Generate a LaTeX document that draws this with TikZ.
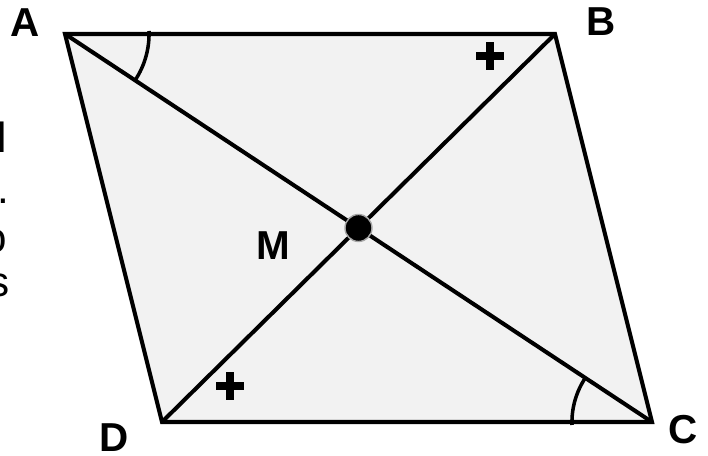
\documentclass[tikz,border=0pt]{standalone}
\usepackage{fontspec}
\setmainfont{Liberation Sans}
\definecolor{shade}{HTML}{F2F2F2}
\tikzset{
  edge/.style={line width=2.3pt},
  anglemark/.style={line width=2pt},
  tick/.style={line width=4pt},
  vlabel/.style={font=\fontsize{23}{27}\selectfont\bfseries, inner sep=0pt},
  margintext/.style={font=\fontsize{24}{28}\selectfont, anchor=base east, inner sep=0pt}
}

\begin{document}
\begin{tikzpicture}[x=0.02cm, y=0.02cm]
  \useasboundingbox (0,0) rectangle (708,456);
  \clip (0,0) rectangle (708,456);

  % Corners
  \coordinate (A) at (65,422);
  \coordinate (B) at (555,422);
  \coordinate (C) at (652,34);
  \coordinate (D) at (162,34);
  \coordinate (M) at (358.5,228);

  % Parallelogram and diagonals
  \filldraw[edge, fill=shade] (A) -- (B) -- (C) -- (D) -- cycle;
  \draw[edge] (A) -- (C);
  \draw[edge] (B) -- (D);

  % Equal angles
  \draw[anglemark] (A) ++(84,3) arc[start angle=2, end angle=-33.5, radius=84];
  \draw[anglemark] (C) ++(-80,-3) arc[start angle=182, end angle=146.5, radius=80];

  % Equal angles (plus marks)
  \foreach \p in {(490,400),(230,70)}
    \draw[tick] \p ++(-14,0) -- ++(28,0) \p ++(0,-14) -- ++(0,28);

  % Midpoint
  \filldraw[fill=black, draw=gray!70, line width=0.8pt] (M) circle (13.5);

  % Labels
  \node[vlabel] (lA) at (25,433) {A};
  \node[vlabel] (lB) at (601,434) {B};
  \node[vlabel] (lC) at (683,26) {C};
  \node[vlabel] (lD) at (114,18) {D};
  \node[vlabel] (lM) at (273,210) {M};

  % Cut-off text on the left
  \node[margintext] (t1) at (7,303) {l};
  \node[margintext] (t2) at (10,252) {.};
  \node[margintext] (t3) at (7,203) {o};
  \node[margintext] (t4) at (10,159) {s};
\end{tikzpicture}
\end{document}
